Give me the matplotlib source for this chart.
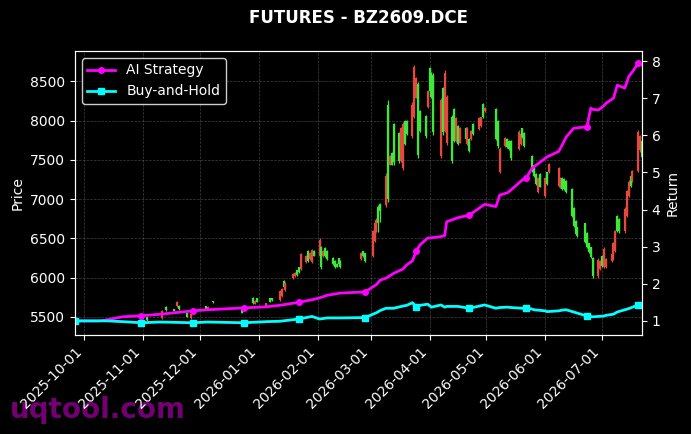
import pandas as pd
import matplotlib
matplotlib.use('Agg')
import matplotlib.pyplot as plt
import matplotlib.dates as mdates

plt.style.use('dark_background')

# daily bars (only days with trades)
bar_dates = [
    '2025-11-03', '2025-11-11', '2025-11-13', '2025-11-17', '2025-11-19', '2025-11-20', '2025-11-24', '2025-11-26',
    '2025-12-04', '2025-12-05', '2025-12-08', '2025-12-23', '2025-12-24', '2025-12-29', '2025-12-30', '2025-12-31',
    '2026-01-05', '2026-01-07', '2026-01-08', '2026-01-12', '2026-01-13', '2026-01-14', '2026-01-15', '2026-01-19',
    '2026-01-20', '2026-01-21', '2026-01-22', '2026-01-23', '2026-01-26', '2026-01-27', '2026-01-28', '2026-01-29',
    '2026-01-30', '2026-02-02', '2026-02-03', '2026-02-04', '2026-02-05', '2026-02-06', '2026-02-09', '2026-02-10',
    '2026-02-11', '2026-02-12', '2026-02-13', '2026-02-24', '2026-02-25', '2026-02-26', '2026-03-02', '2026-03-03',
    '2026-03-04', '2026-03-05', '2026-03-06', '2026-03-09', '2026-03-10', '2026-03-11', '2026-03-12', '2026-03-13',
    '2026-03-16', '2026-03-17', '2026-03-18', '2026-03-19', '2026-03-20', '2026-03-23', '2026-03-24', '2026-03-25',
    '2026-03-26', '2026-03-27', '2026-03-30', '2026-03-31', '2026-04-01', '2026-04-02', '2026-04-03', '2026-04-07',
    '2026-04-08', '2026-04-09', '2026-04-10', '2026-04-13', '2026-04-14', '2026-04-15', '2026-04-16', '2026-04-17',
    '2026-04-20', '2026-04-21', '2026-04-22', '2026-04-23', '2026-04-24', '2026-04-27', '2026-04-28', '2026-04-29',
    '2026-04-30', '2026-05-06', '2026-05-07', '2026-05-08', '2026-05-11', '2026-05-12', '2026-05-13', '2026-05-14',
    '2026-05-18', '2026-05-19', '2026-05-20', '2026-05-21', '2026-05-25', '2026-05-26', '2026-05-27', '2026-05-28',
    '2026-05-29', '2026-06-01', '2026-06-02', '2026-06-03', '2026-06-08', '2026-06-09', '2026-06-10', '2026-06-11',
    '2026-06-12', '2026-06-15', '2026-06-16', '2026-06-17', '2026-06-18', '2026-06-22', '2026-06-23', '2026-06-24',
    '2026-06-25', '2026-06-26', '2026-06-29', '2026-06-30', '2026-07-01', '2026-07-02', '2026-07-03', '2026-07-06',
    '2026-07-07', '2026-07-08', '2026-07-09', '2026-07-10', '2026-07-13', '2026-07-14', '2026-07-15', '2026-07-16',
    '2026-07-17', '2026-07-20', '2026-07-21', '2026-07-22',
]
bar_open = [
    5500, 5490, 5630, 5595, 5635, 5645, 5545, 5485,
    5635, 5595, 5698, 5595, 5580, 5745, 5670, 5735,
    5645, 5735, 5735, 5720, 5770, 5960, 5840, 5990,
    6015, 6095, 6130, 6110, 6195, 6340, 6235, 6200,
    6345, 6280, 6390, 6270, 6380, 6340, 6255, 6215,
    6180, 6245, 6215, 6235, 6335, 6310, 6280, 6470,
    6600, 6900, 6940, 6920, 8200, 7440, 7590, 7950,
    7840, 7490, 7400, 7990, 7990, 7800, 8050, 8290,
    8470, 8120, 8060, 8170, 8670, 8600, 8580, 7550,
    8420, 7870, 7720, 8050, 8150, 7740, 7930, 7720,
    7910, 7700, 7770, 7760, 7960, 7890, 7925, 8210,
    8115, 8150, 7990, 7350, 7670, 7770, 7740, 7740,
    7640, 7700, 7900, 7840, 7550, 7430, 7320, 7090,
    7320, 7040, 7340, 7340, 7170, 7150, 7270, 7260,
    7230, 7130, 6890, 6725, 6640, 6690, 6570, 6435,
    6385, 6250, 6020, 6110, 6280, 6140, 6130, 6210,
    6240, 6340, 6790, 6750, 6590, 6790, 7040, 7300,
    7230, 7360, 7620, 7740,
]
bar_high = [
    5510, 5590, 5640, 5600, 5705, 5650, 5550, 5550,
    5640, 5640, 5700, 5600, 5615, 5755, 5715, 5740,
    5680, 5740, 5740, 5845, 5870, 5970, 5945, 6060,
    6070, 6100, 6135, 6315, 6290, 6350, 6325, 6365,
    6350, 6505, 6400, 6350, 6390, 6350, 6265, 6225,
    6185, 6250, 6225, 6325, 6340, 6315, 6605, 6735,
    6760, 6925, 6950, 7330, 8260, 7560, 7600, 7970,
    7850, 7920, 7980, 8005, 8005, 8235, 8705, 8550,
    8490, 8130, 8070, 8390, 8680, 8620, 8600, 8285,
    8425, 8640, 8325, 8070, 8160, 8045, 7940, 7915,
    7915, 7915, 7775, 7880, 7970, 8045, 8045, 8220,
    8170, 8160, 8005, 7660, 7790, 7775, 7750, 7750,
    7880, 7840, 7905, 7850, 7560, 7435, 7330, 7280,
    7330, 7280, 7345, 7460, 7410, 7280, 7280, 7270,
    7240, 7140, 6900, 6735, 6645, 6695, 6580, 6440,
    6390, 6265, 6250, 6225, 6290, 6390, 6250, 6315,
    6455, 6605, 6800, 6760, 6900, 7115, 7240, 7305,
    7370, 7880, 7815, 7750,
]
bar_low = [
    5450, 5475, 5575, 5575, 5625, 5590, 5500, 5475,
    5600, 5590, 5680, 5550, 5575, 5665, 5665, 5690,
    5640, 5690, 5705, 5705, 5755, 5870, 5830, 5985,
    6010, 6020, 6060, 6100, 6185, 6200, 6225, 6185,
    6275, 6265, 6110, 6265, 6265, 6225, 6160, 6125,
    6135, 6160, 6125, 6225, 6265, 6200, 6265, 6455,
    6580, 6580, 6710, 6900, 6960, 7430, 7430, 7430,
    7460, 7475, 7370, 7690, 7815, 7780, 8030, 8285,
    7520, 7850, 7780, 8160, 8360, 8285, 7810, 7520,
    7815, 7850, 7690, 7460, 7725, 7725, 7690, 7715,
    7750, 7690, 7600, 7750, 7815, 7880, 7915, 8030,
    8110, 7750, 7650, 7330, 7660, 7650, 7625, 7500,
    7625, 7690, 7775, 7660, 7345, 7280, 7180, 7080,
    7150, 7030, 7180, 7330, 7155, 7140, 7115, 7115,
    7080, 6770, 6645, 6545, 6520, 6440, 6375, 6315,
    6250, 6000, 6000, 6100, 6135, 6125, 6125, 6200,
    6225, 6325, 6580, 6570, 6570, 6770, 7025, 7155,
    7215, 7345, 7600, 7520,
]
bar_close = [
    5460, 5570, 5585, 5580, 5690, 5600, 5505, 5540,
    5605, 5630, 5685, 5555, 5610, 5675, 5705, 5695,
    5675, 5695, 5710, 5830, 5860, 5880, 5930, 6050,
    6065, 6030, 6070, 6300, 6280, 6210, 6315, 6350,
    6280, 6480, 6130, 6340, 6275, 6235, 6170, 6135,
    6140, 6170, 6135, 6315, 6270, 6210, 6590, 6700,
    6740, 6700, 6850, 7300, 7000, 7550, 7440, 7470,
    7480, 7900, 7950, 7700, 7830, 8200, 8680, 8540,
    7560, 7870, 7800, 8380, 8380, 8300, 7850, 8260,
    7860, 8600, 8300, 7480, 7740, 8030, 7700, 7900,
    7760, 7900, 7610, 7870, 7830, 8030, 8040, 8040,
    8165, 7770, 7670, 7640, 7780, 7660, 7640, 7520,
    7860, 7830, 7790, 7670, 7360, 7290, 7190, 7270,
    7160, 7270, 7190, 7450, 7400, 7270, 7125, 7125,
    7090, 6790, 6660, 6560, 6530, 6450, 6390, 6325,
    6260, 6020, 6230, 6210, 6150, 6370, 6240, 6300,
    6440, 6590, 6600, 6590, 6880, 7100, 7220, 7170,
    7360, 7850, 7800, 7540,
]

# strategy curves
line_dates = [
    '2025-09-26', '2025-10-09', '2025-10-13', '2025-10-21', '2025-10-31', '2025-11-10', '2025-11-27', '2025-12-05',
    '2025-12-24', '2026-01-05', '2026-01-12', '2026-01-22', '2026-01-29', '2026-02-02', '2026-02-06', '2026-02-13',
    '2026-02-26', '2026-03-04', '2026-03-06', '2026-03-09', '2026-03-13', '2026-03-18', '2026-03-20', '2026-03-23',
    '2026-03-25', '2026-03-27', '2026-03-31', '2026-04-02', '2026-04-07', '2026-04-09', '2026-04-10', '2026-04-16',
    '2026-04-22', '2026-04-30', '2026-05-06', '2026-05-08', '2026-05-12', '2026-05-14', '2026-05-20', '2026-05-22',
    '2026-05-25', '2026-05-26', '2026-06-01', '2026-06-02', '2026-06-08', '2026-06-10', '2026-06-12', '2026-06-16',
    '2026-06-23', '2026-06-25', '2026-06-26', '2026-06-29', '2026-07-02', '2026-07-03', '2026-07-07', '2026-07-09',
    '2026-07-13', '2026-07-15', '2026-07-17', '2026-07-20', '2026-07-22',
]
ai_strategy = [
    1.00, 1.00, 1.03, 1.11, 1.14, 1.18, 1.27, 1.30,
    1.35, 1.38, 1.42, 1.50, 1.57, 1.62, 1.69, 1.75,
    1.78, 1.98, 2.10, 2.15, 2.28, 2.40, 2.51, 2.62,
    2.89, 3.05, 3.23, 3.24, 3.27, 3.30, 3.67, 3.78,
    3.85, 4.14, 4.08, 4.39, 4.45, 4.53, 4.80, 4.85,
    5.11, 5.15, 5.38, 5.42, 5.56, 5.74, 5.95, 6.19,
    6.23, 6.73, 6.70, 6.68, 6.80, 6.86, 7.00, 7.35,
    7.27, 7.58, 7.71, 7.94, 7.89,
]
buy_hold = [
    1.00, 1.00, 1.00, 0.98, 0.95, 0.97, 0.95, 0.97,
    0.95, 0.98, 0.99, 1.05, 1.12, 1.05, 1.08, 1.08,
    1.09, 1.22, 1.28, 1.34, 1.34, 1.40, 1.42, 1.49,
    1.37, 1.42, 1.45, 1.37, 1.43, 1.37, 1.39, 1.39,
    1.34, 1.43, 1.34, 1.36, 1.37, 1.36, 1.34, 1.34,
    1.32, 1.30, 1.27, 1.25, 1.27, 1.29, 1.30, 1.24,
    1.13, 1.12, 1.11, 1.12, 1.13, 1.15, 1.18, 1.24,
    1.30, 1.33, 1.37, 1.43, 1.38,
]
marker_dates = ['2025-09-26', '2025-10-31', '2025-11-27', '2025-12-24', '2026-01-22', '2026-02-26',
                '2026-03-25', '2026-04-22', '2026-05-22', '2026-06-23', '2026-07-20']

title = 'FUTURES - BZ2609.DCE'
up_color = '#e5483d'
down_color = '#3ee83a'

bars = pd.DataFrame({'open': bar_open, 'high': bar_high, 'low': bar_low, 'close': bar_close},
                    index=pd.to_datetime(bar_dates))
curves = pd.DataFrame({'ai': ai_strategy, 'bh': buy_hold}, index=pd.to_datetime(line_dates))
marks = [i for i, d in enumerate(line_dates) if d in marker_dates]

fig = plt.figure(figsize=(6.91, 4.34), dpi=100)
fig.patch.set_facecolor('black')
ax = fig.add_axes([0.1085, 0.2281, 0.8205, 0.6544])
ax.set_facecolor('black')

colors = [up_color if c >= o else down_color for o, c in zip(bars['open'], bars['close'])]
ax.vlines(bars.index, bars['low'], bars['high'], colors=colors, linewidth=0.9)
ax.vlines(bars.index, bars['open'], bars['close'], colors=colors, linewidth=1.6)

ax.set_ylim(5270, 8885)
ax.set_ylabel('Price', color='white')
ax.grid(True, linestyle='--', linewidth=0.5, color='gray', alpha=0.5)
ax.set_title(title, fontsize=12, fontweight='bold', color='white', pad=20)

ax2 = ax.twinx()
ax2.plot(curves.index, curves['ai'], color='magenta', linewidth=2, marker='o', markersize=4,
         markevery=marks, label='AI Strategy')
ax2.plot(curves.index, curves['bh'], color='cyan', linewidth=2, marker='s', markersize=4,
         markevery=marks, label='Buy-and-Hold')
ax2.set_ylim(0.62, 8.27)
ax2.set_ylabel('Return', color='white')
ax2.legend(loc='upper left', facecolor='black', edgecolor='white', framealpha=0.8)

ax.set_xlim(curves.index[0], curves.index[-1])
ax.xaxis.set_major_locator(mdates.MonthLocator())
ax.xaxis.set_major_formatter(mdates.DateFormatter('%Y-%m-%d'))
plt.setp(ax.get_xticklabels(), rotation=45, ha='right')

for a in (ax, ax2):
    for s in a.spines.values():
        s.set_color('white')

fig.text(0.0145, 0.037, 'uqtool.com', fontsize=20, fontweight='bold', color='purple',
         alpha=0.9, va='baseline', zorder=-1)

fig.savefig('out.png', dpi=100, facecolor='black')
